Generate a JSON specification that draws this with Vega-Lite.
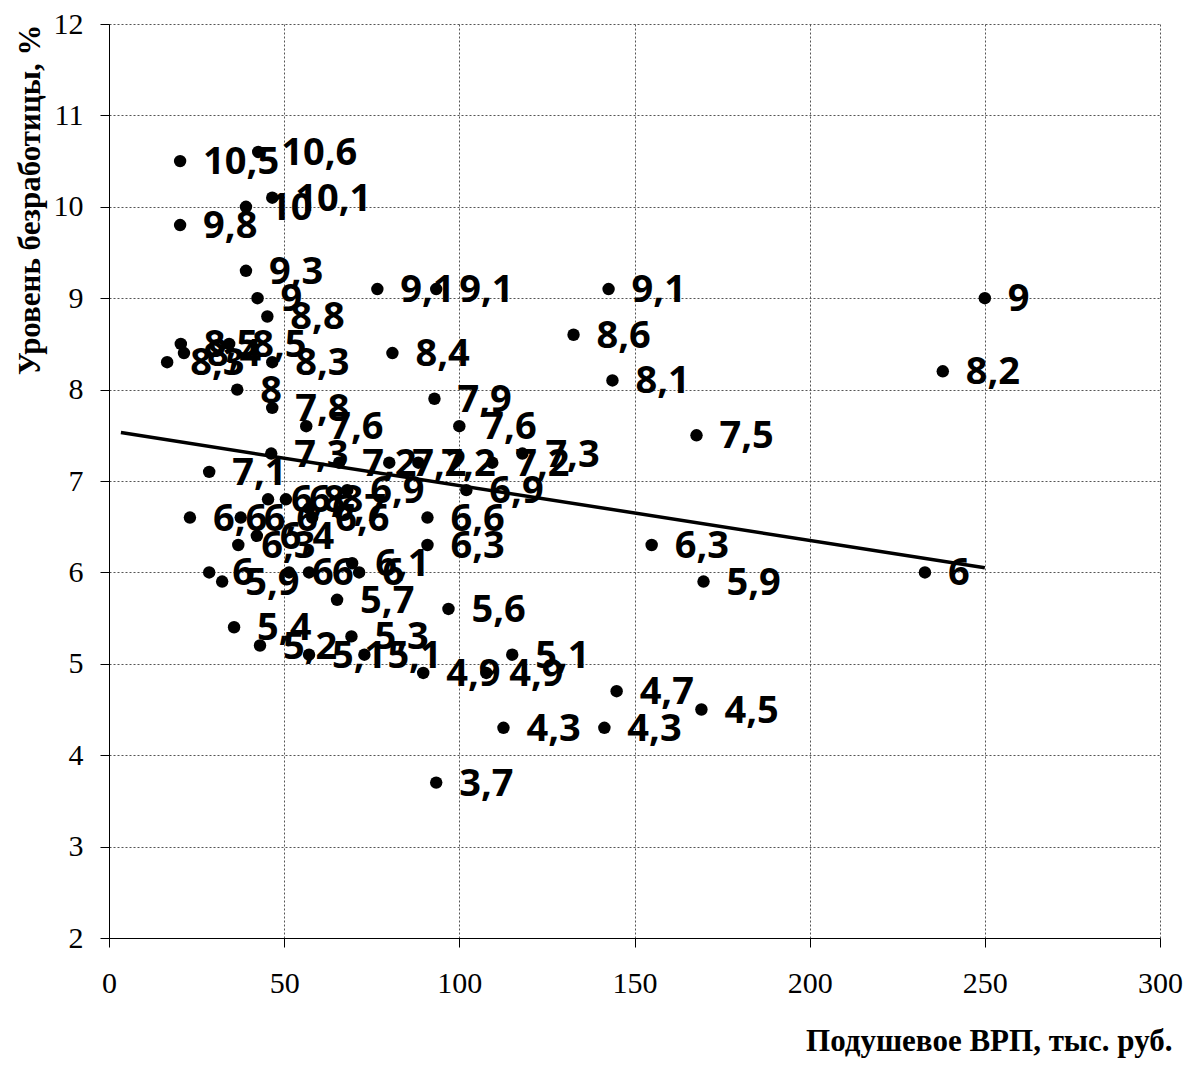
{
  "$schema": "https://vega.github.io/schema/vega-lite/v6.json",
  "width": 1051,
  "height": 914,
  "autosize": "none",
  "padding": {"left": 109, "top": 24, "right": 29, "bottom": 130},
  "background": "white",
  "config": {
    "view": {"stroke": null},
    "locale": {"number": {"decimal": ",", "thousands": " ", "grouping": [3], "currency": ["", ""]}},
    "axis": {
      "labelFont": "Liberation Serif",
      "labelFontSize": 30,
      "labelColor": "black",
      "titleFont": "Liberation Serif",
      "titleFontSize": 31,
      "titleFontWeight": "bold",
      "titleColor": "black",
      "domainColor": "black",
      "tickColor": "black",
      "gridColor": "#555555",
      "gridDash": [2, 2],
      "gridWidth": 1,
      "tickSize": 9
    }
  },
  "datasets": {
    "regions": [
      {"grp": 20.3, "unemp": 10.5}, {"grp": 42.6, "unemp": 10.6}, {"grp": 46.6, "unemp": 10.1},
      {"grp": 39.1, "unemp": 10.0}, {"grp": 20.3, "unemp": 9.8}, {"grp": 39.1, "unemp": 9.3},
      {"grp": 42.4, "unemp": 9.0}, {"grp": 45.2, "unemp": 8.8}, {"grp": 76.6, "unemp": 9.1},
      {"grp": 93.4, "unemp": 9.1}, {"grp": 142.6, "unemp": 9.1}, {"grp": 250, "unemp": 9.0},
      {"grp": 132.6, "unemp": 8.6}, {"grp": 238, "unemp": 8.2}, {"grp": 143.7, "unemp": 8.1},
      {"grp": 80.9, "unemp": 8.4}, {"grp": 20.5, "unemp": 8.5}, {"grp": 21.4, "unemp": 8.4},
      {"grp": 16.6, "unemp": 8.3}, {"grp": 34.3, "unemp": 8.5}, {"grp": 46.6, "unemp": 8.3},
      {"grp": 36.6, "unemp": 8.0}, {"grp": 46.6, "unemp": 7.8}, {"grp": 92.9, "unemp": 7.9},
      {"grp": 56.3, "unemp": 7.6}, {"grp": 100, "unemp": 7.6}, {"grp": 167.7, "unemp": 7.5},
      {"grp": 46.3, "unemp": 7.3}, {"grp": 118, "unemp": 7.3}, {"grp": 28.6, "unemp": 7.1},
      {"grp": 65.7, "unemp": 7.2}, {"grp": 80, "unemp": 7.2}, {"grp": 88.3, "unemp": 7.2},
      {"grp": 109.4, "unemp": 7.2}, {"grp": 102, "unemp": 6.9}, {"grp": 68, "unemp": 6.9},
      {"grp": 45.4, "unemp": 6.8}, {"grp": 50.5, "unemp": 6.8}, {"grp": 57.1, "unemp": 6.7},
      {"grp": 58, "unemp": 6.6}, {"grp": 23.1, "unemp": 6.6}, {"grp": 37.6, "unemp": 6.6},
      {"grp": 90.9, "unemp": 6.6}, {"grp": 42.2, "unemp": 6.4}, {"grp": 36.9, "unemp": 6.3},
      {"grp": 90.9, "unemp": 6.3}, {"grp": 154.9, "unemp": 6.3}, {"grp": 69.4, "unemp": 6.1},
      {"grp": 28.6, "unemp": 6.0}, {"grp": 51.4, "unemp": 6.0}, {"grp": 57.1, "unemp": 6.0},
      {"grp": 71.4, "unemp": 6.0}, {"grp": 232.9, "unemp": 6.0}, {"grp": 32.3, "unemp": 5.9},
      {"grp": 169.7, "unemp": 5.9}, {"grp": 65.1, "unemp": 5.7}, {"grp": 96.9, "unemp": 5.6},
      {"grp": 35.7, "unemp": 5.4}, {"grp": 69.2, "unemp": 5.3}, {"grp": 43.1, "unemp": 5.2},
      {"grp": 57.1, "unemp": 5.1}, {"grp": 72.9, "unemp": 5.1}, {"grp": 115.1, "unemp": 5.1},
      {"grp": 89.7, "unemp": 4.9}, {"grp": 107.7, "unemp": 4.9}, {"grp": 144.9, "unemp": 4.7},
      {"grp": 169.1, "unemp": 4.5}, {"grp": 112.6, "unemp": 4.3}, {"grp": 141.4, "unemp": 4.3},
      {"grp": 93.4, "unemp": 3.7}
    ],
    "trend": [
      {"grp": 3.4, "unemp": 7.53},
      {"grp": 250, "unemp": 6.05}
    ]
  },
  "encoding": {
    "x": {
      "field": "grp", "type": "quantitative",
      "scale": {"domain": [0, 300], "nice": false, "zero": false},
      "axis": {
        "values": [0, 50, 100, 150, 200, 250, 300],
        "title": "Подушевое ВРП, тыс. руб.",
        "titleAnchor": "end",
        "titleAlign": "right",
        "titleBaseline": "alphabetic",
        "titleX": 1063,
        "titleY": 112,
        "labelPadding": 21,
        "labelFlush": false
      }
    },
    "y": {
      "field": "unemp", "type": "quantitative",
      "scale": {"domain": [2, 12], "nice": false, "zero": false},
      "axis": {
        "values": [2, 3, 4, 5, 6, 7, 8, 9, 10, 11, 12],
        "title": "Уровень безработицы, %",
        "titleAnchor": "end",
        "titleAlign": "right",
        "titleX": -70,
        "titleY": 0,
        "titleBaseline": "alphabetic",
        "labelPadding": 17,
        "labelFlush": false
      }
    }
  },
  "layer": [
    {
      "data": {"name": "regions"},
      "mark": {"type": "circle", "size": 155, "color": "black", "opacity": 1}
    },
    {
      "data": {"name": "trend"},
      "mark": {"type": "line", "color": "black", "strokeWidth": 3.5}
    },
    {
      "data": {"name": "regions"},
      "mark": {
        "type": "text",
        "align": "left",
        "baseline": "middle",
        "dx": 23,
        "dy": 2,
        "font": "Open Sans",
        "fontWeight": "bold",
        "fontSize": 38,
        "color": "black"
      },
      "encoding": {
        "text": {"field": "unemp", "type": "quantitative", "format": ".3~r"}
      }
    }
  ]
}
